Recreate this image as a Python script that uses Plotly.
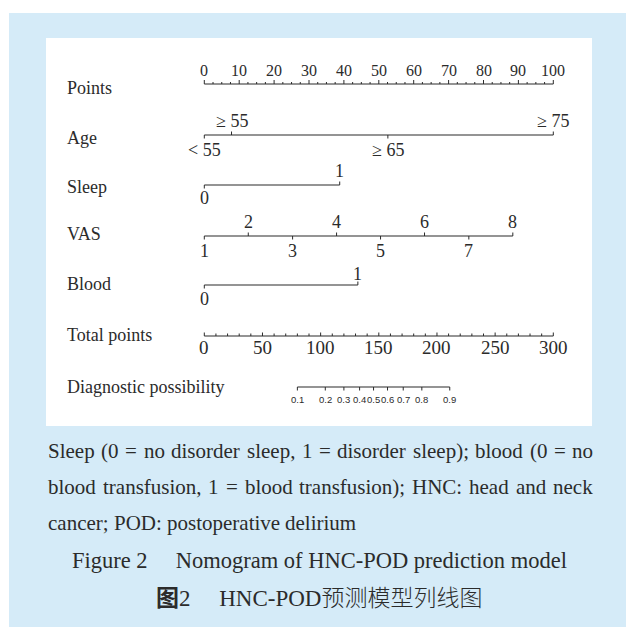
import plotly.graph_objects as go

# ---------------- data ----------------
row_names = ["Points", "Age", "Sleep", "VAS", "Blood", "Total points", "Diagnostic possibility"]

points_major = [0, 10, 20, 30, 40, 50, 60, 70, 80, 90, 100]
points_minor = [2.5, 5, 7.5, 12.5, 15, 17.5, 22.5, 25, 27.5, 32.5, 35, 37.5, 42.5, 45, 47.5,
                52.5, 55, 57.5, 62.5, 65, 67.5, 72.5, 75, 77.5, 82.5, 85, 87.5, 92.5, 95, 97.5]

age_labels = ["< 55", "≥ 55", "≥ 65", "≥ 75"]
age_points = [0, 7.8, 52.6, 100]
age_side = ["below", "above", "below", "above"]

sleep_labels = ["0", "1"]
sleep_points = [0, 38.8]
sleep_side = ["below", "above"]

vas_labels = ["1", "2", "3", "4", "5", "6", "7", "8"]
vas_points = [0, 12.6, 25.3, 37.9, 50.5, 63.1, 75.8, 88.4]
vas_side = ["below", "above", "below", "above", "below", "above", "below", "above"]

blood_labels = ["0", "1"]
blood_points = [0, 44.0]
blood_side = ["below", "above"]

total_major = [0, 50, 100, 150, 200, 250, 300]
total_minor = [10, 20, 30, 40, 60, 70, 80, 90, 110, 120, 130, 140, 160, 170, 180, 190,
               210, 220, 230, 240, 260, 270, 280, 290]

diag_labels = ["0.1", "0.2", "0.3", "0.4", "0.5", "0.6", "0.7", "0.8", "0.9"]
diag_total = [80, 104, 120, 133.5, 145.5, 157.5, 171, 187, 211]

caption_lines = [
    "Sleep (0 = no disorder sleep, 1 = disorder sleep); blood (0 = no",
    "blood transfusion, 1 = blood transfusion); HNC: head and neck",
    "cancer; POD: postoperative delirium",
]
caption_justify = [True, True, False]
title_en = "Figure 2\u2003 Nomogram of HNC-POD prediction model"
title_zh_bold = "图"
title_zh_num = "2\u2003 HNC-POD"
title_zh_rest = "预测模型列线图"

# ---------------- layout constants (pixels) ----------------
W, H = 626, 627
X0_PX, X100_PX = 204.3, 553.3          # points axis calibration
T0_PX, T300_PX = 204.3, 553.3          # total points axis calibration
BLUE = "#d5ebf8"
INK = "#2b2b2b"
SERIF = "Liberation Serif"
SANS = "Liberation Sans"
CJK = "Noto Sans CJK SC"

row_y = {"Points": 84, "Age": 135, "Sleep": 185, "VAS": 236, "Blood": 285,
         "Total points": 336, "Diagnostic possibility": 387}
label_y = {"Points": 88, "Age": 138, "Sleep": 187, "VAS": 234, "Blood": 284,
           "Total points": 335, "Diagnostic possibility": 387}

# Times/Liberation Serif advance widths (1/1000 em) for justification of caption words
TW = {" ": 250, "(": 333, ")": 333, "=": 564, ";": 278, ":": 278, ",": 250, "-": 333, ".": 250,
      "a": 444, "b": 500, "c": 444, "d": 500, "e": 444, "f": 333, "g": 500, "h": 500, "i": 278,
      "j": 278, "k": 500, "l": 278, "m": 778, "n": 500, "o": 500, "p": 500, "q": 500, "r": 333,
      "s": 389, "t": 278, "u": 500, "v": 500, "w": 722, "x": 500, "y": 500, "z": 444,
      "C": 667, "D": 722, "H": 722, "N": 722, "O": 722, "P": 556, "S": 556}


def tw(s, size):
    return sum(TW.get(c, 500) for c in s) * size / 1000.0


pp = (X100_PX - X0_PX) / 100.0
xr = [-X0_PX / pp, (W - X0_PX) / pp]
tp = (T300_PX - T0_PX) / 300.0
xr2 = [-T0_PX / tp, (W - T0_PX) / tp]

fig = go.Figure()


def seg_trace(xs, y0, y1, axis="x", width=1):
    X, Y = [], []
    for v in xs:
        X += [v, v, None]
        Y += [y0, y1, None]
    return go.Scatter(x=X, y=Y, mode="lines", xaxis=axis, yaxis="y",
                      line=dict(color=INK, width=width), hoverinfo="skip", showlegend=False)


def hline(xs, y, axis="x"):
    return go.Scatter(x=[min(xs), max(xs)], y=[y, y], mode="lines", xaxis=axis, yaxis="y",
                      line=dict(color=INK, width=1.1), hoverinfo="skip", showlegend=False)


ann = []

# Points axis
y = row_y["Points"]
fig.add_trace(hline(points_major, y))
fig.add_trace(seg_trace(points_major, y, y - 4))
fig.add_trace(seg_trace(points_minor, y, y - 2))
for v in points_major:
    ann.append(dict(x=v, y=70, xref="x", yref="y", text=str(v), showarrow=False,
                    font=dict(family=SERIF, size=16, color=INK), xanchor="center", yanchor="middle"))


def cat_axis(name, labels, pts, sides, above_y, below_y, size=18):
    y = row_y[name]
    fig.add_trace(hline(pts, y))
    for lab, p, s in zip(labels, pts, sides):
        if s == "above":
            fig.add_trace(seg_trace([p], y, y - 3.5))
            ty = above_y
        else:
            fig.add_trace(seg_trace([p], y, y + 3.5))
            ty = below_y
        ann.append(dict(x=p, y=ty, xref="x", yref="y", text=lab, showarrow=False,
                        font=dict(family=SERIF, size=size, color=INK),
                        xanchor="center", yanchor="middle"))


cat_axis("Age", age_labels, age_points, age_side, 121, 150, size=18)
cat_axis("Sleep", sleep_labels, sleep_points, sleep_side, 171, 198)
cat_axis("VAS", vas_labels, vas_points, vas_side, 222, 251)
cat_axis("Blood", blood_labels, blood_points, blood_side, 274, 299)

# Total points axis
y = row_y["Total points"]
fig.add_trace(hline(total_major, y, "x2"))
fig.add_trace(seg_trace(total_major, y, y - 3.5, "x2"))
fig.add_trace(seg_trace(total_minor, y, y - 2.5, "x2"))
for v in total_major:
    ann.append(dict(x=v, y=347, xref="x2", yref="y", text=str(v), showarrow=False,
                    font=dict(family=SERIF, size=19, color=INK), xanchor="center", yanchor="middle"))

# Diagnostic possibility axis
y = row_y["Diagnostic possibility"]
fig.add_trace(hline(diag_total, y, "x2"))
fig.add_trace(seg_trace(diag_total, y, y + 3.5, "x2"))
for lab, v in zip(diag_labels, diag_total):
    ann.append(dict(x=v, y=399, xref="x2", yref="y", text=lab, showarrow=False,
                    font=dict(family=SANS, size=9.5, color=INK), xanchor="center", yanchor="middle"))

# Row names
for name in row_names:
    ann.append(dict(x=65 / W, y=1 - label_y[name] / H, xref="paper", yref="paper", text=name,
                    showarrow=False, font=dict(family=SERIF, size=18, color=INK),
                    xanchor="left", yanchor="middle"))

# Caption (justified word by word)
CAP_SIZE = 21
cap_y = [451, 487, 523]
LEFT, RIGHT = 46, 591
for line, cy, just in zip(caption_lines, cap_y, caption_justify):
    words = line.split(" ")
    widths = [tw(w, CAP_SIZE) for w in words]
    if just and len(words) > 1:
        gap = (RIGHT - LEFT - sum(widths)) / (len(words) - 1)
    else:
        gap = tw(" ", CAP_SIZE)
    x = LEFT
    for w, wd in zip(words, widths):
        ann.append(dict(x=x / W, y=1 - cy / H, xref="paper", yref="paper", text=w,
                        showarrow=False, font=dict(family=SERIF, size=CAP_SIZE, color=INK),
                        xanchor="left", yanchor="middle"))
        x += wd + gap

ann.append(dict(x=319 / W, y=1 - 560 / H, xref="paper", yref="paper", text=title_en,
                showarrow=False, font=dict(family=SERIF, size=22.5, color=INK),
                xanchor="center", yanchor="middle"))
ann.append(dict(x=319 / W, y=1 - 596 / H, xref="paper", yref="paper",
                text=("<span style='font-family:" + CJK + "; font-weight:bold'>" + title_zh_bold + "</span>"
                      + "<span style='font-family:" + SERIF + "'>" + title_zh_num + "</span>"
                      + "<span style='font-family:" + CJK + "; font-weight:300'>" + title_zh_rest + "</span>"),
                showarrow=False, font=dict(family=SERIF, size=23, color=INK),
                xanchor="center", yanchor="middle"))

shapes = [
    # white strips at top and left, outside the blue frame
    dict(type="rect", xref="paper", yref="paper", x0=0, x1=1, y0=1 - 13 / H, y1=1,
         fillcolor="white", line=dict(width=0), layer="below"),
    dict(type="rect", xref="paper", yref="paper", x0=0, x1=9 / W, y0=0, y1=1,
         fillcolor="white", line=dict(width=0), layer="below"),
    # white nomogram panel
    dict(type="rect", xref="paper", yref="paper", x0=46 / W, x1=592 / W, y0=1 - 426 / H, y1=1 - 38 / H,
         fillcolor="white", line=dict(width=0), layer="below"),
]

fig.update_layout(
    width=W, height=H, margin=dict(l=0, r=0, t=0, b=0),
    paper_bgcolor=BLUE, plot_bgcolor="rgba(0,0,0,0)",
    xaxis=dict(range=xr, visible=False, domain=[0, 1], fixedrange=True),
    xaxis2=dict(range=xr2, visible=False, domain=[0, 1], overlaying="x", fixedrange=True),
    yaxis=dict(range=[H, 0], visible=False, domain=[0, 1], fixedrange=True),
    annotations=ann, shapes=shapes, showlegend=False,
)

fig.write_html("out.html", config={"displayModeBar": False},
               post_script="document.body.style.margin='0';document.body.style.overflow='hidden';")
